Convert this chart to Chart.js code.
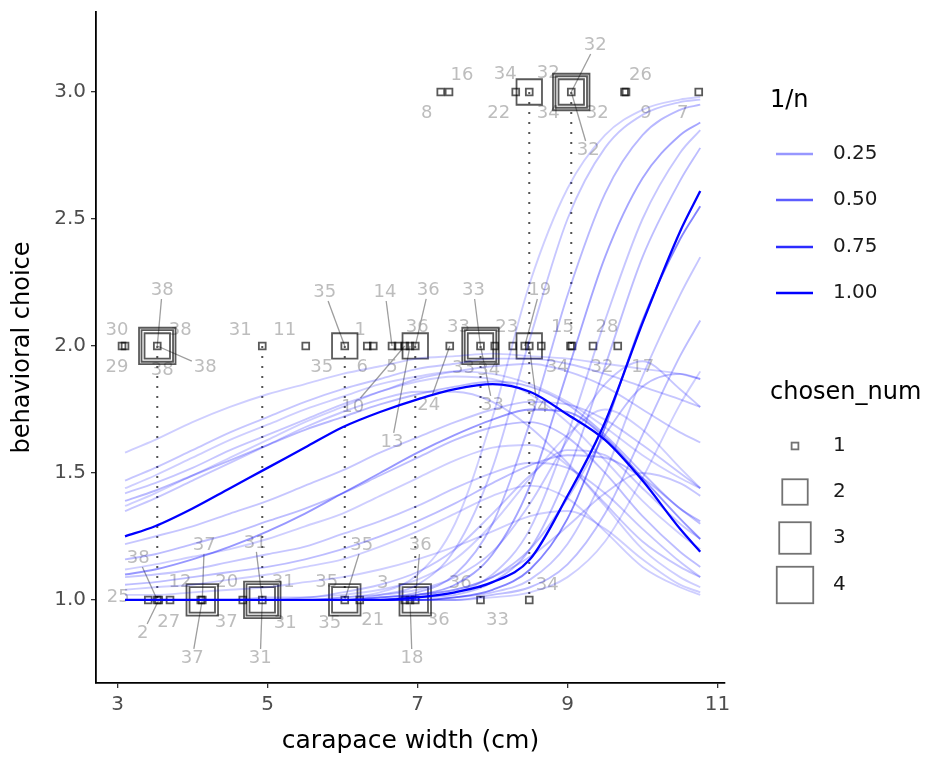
<!DOCTYPE html>
<html><head><meta charset="utf-8">
<script src="https://cdn.jsdelivr.net/npm/chart.js@4.4.1/dist/chart.umd.min.js"></script>
<style>html,body{margin:0;padding:0;background:#fff}</style>
</head><body>
<canvas id="c" width="939" height="759"></canvas>
<script>
// ---------------- DATA ----------------
const xTicks = [3, 5, 7, 9, 11];
const yTicks = [1.0, 1.5, 2.0, 2.5, 3.0];

const xGrid = [3.1, 3.5, 4, 4.5, 5, 5.5, 6, 6.5, 7, 7.5, 8, 8.5, 9, 9.5, 10, 10.5, 10.77];

// 1/n of each fitted curve
const curveInvN = [0.08,0.1,0.08,0.1,0.14,0.25,1,0.1,0.08,0.1,0.125,0.08,0.1,0.125,0.08,0.08,
                   0.1,0.125,0.08,0.1,0.1,
                   0.08,0.1,0.14,0.2,0.1,0.125,1,0.33,0.1,0.125,0.08];
// expected behavioural choice of each curve, read at xGrid
const curveValues = [
 [1.58,1.63,1.70,1.76,1.81,1.85,1.89,1.92,1.95,1.96,1.97,1.96,1.95,1.93,1.91,1.89,1.87],
 [1.47,1.52,1.59,1.66,1.72,1.78,1.83,1.87,1.91,1.93,1.95,1.95,1.93,1.89,1.84,1.79,1.76],
 [1.44,1.49,1.56,1.63,1.69,1.75,1.80,1.85,1.88,1.90,1.89,1.85,1.78,1.68,1.57,1.48,1.44],
 [1.42,1.46,1.52,1.59,1.65,1.71,1.77,1.82,1.87,1.90,1.92,1.93,1.90,1.84,1.75,1.66,1.62],
 [1.39,1.43,1.49,1.55,1.61,1.67,1.72,1.77,1.81,1.84,1.86,1.84,1.77,1.65,1.50,1.36,1.31],
 [1.10,1.12,1.16,1.21,1.27,1.34,1.42,1.50,1.58,1.65,1.71,1.75,1.74,1.64,1.48,1.32,1.24],
 [1.25,1.29,1.36,1.44,1.52,1.60,1.68,1.74,1.79,1.83,1.85,1.82,1.73,1.63,1.47,1.28,1.19],
 [1.35,1.40,1.47,1.54,1.61,1.68,1.74,1.79,1.82,1.82,1.78,1.68,1.54,1.38,1.23,1.13,1.09],
 [1.37,1.42,1.49,1.56,1.63,1.70,1.76,1.82,1.86,1.88,1.87,1.81,1.70,1.55,1.39,1.26,1.20],
 [1.22,1.25,1.29,1.34,1.39,1.45,1.51,1.58,1.64,1.70,1.75,1.78,1.77,1.71,1.61,1.50,1.44],
 [1.16,1.18,1.22,1.26,1.31,1.36,1.42,1.49,1.56,1.63,1.68,1.70,1.64,1.50,1.33,1.19,1.13],
 [1.12,1.14,1.17,1.20,1.24,1.29,1.34,1.41,1.48,1.55,1.60,1.61,1.53,1.37,1.20,1.09,1.05],
 [1.09,1.10,1.12,1.15,1.18,1.21,1.26,1.31,1.37,1.44,1.50,1.54,1.52,1.42,1.28,1.15,1.09],
 [1.06,1.07,1.09,1.11,1.13,1.16,1.20,1.25,1.31,1.38,1.46,1.53,1.57,1.56,1.48,1.36,1.30],
 [1.04,1.05,1.06,1.08,1.10,1.13,1.16,1.21,1.27,1.34,1.41,1.45,1.40,1.27,1.13,1.05,1.02],
 [1.02,1.02,1.03,1.04,1.05,1.07,1.09,1.12,1.16,1.21,1.27,1.33,1.35,1.28,1.16,1.06,1.03],
 [1.00,1.00,1.00,1.00,1.00,1.00,1.01,1.02,1.04,1.09,1.19,1.38,1.63,1.85,1.94,1.83,1.76],
 [1.00,1.00,1.00,1.00,1.00,1.00,1.00,1.01,1.02,1.04,1.09,1.20,1.40,1.65,1.84,1.89,1.87],
 [1.00,1.00,1.00,1.00,1.00,1.01,1.02,1.04,1.08,1.16,1.30,1.48,1.65,1.75,1.67,1.52,1.44],
 [1.00,1.00,1.00,1.00,1.01,1.01,1.03,1.06,1.11,1.20,1.34,1.49,1.59,1.57,1.44,1.30,1.24],
 [1.00,1.00,1.00,1.00,1.00,1.00,1.00,1.01,1.02,1.04,1.09,1.17,1.29,1.42,1.50,1.46,1.41],
 [1.00,1.00,1.00,1.00,1.00,1.00,1.01,1.03,1.10,1.30,1.72,2.25,2.62,2.83,2.93,2.97,2.98],
 [1.00,1.00,1.00,1.00,1.00,1.00,1.00,1.02,1.06,1.20,1.52,2.03,2.50,2.78,2.91,2.96,2.97],
 [1.00,1.00,1.00,1.00,1.00,1.00,1.00,1.01,1.03,1.10,1.30,1.70,2.20,2.60,2.83,2.93,2.95],
 [1.00,1.00,1.00,1.00,1.00,1.00,1.00,1.00,1.02,1.06,1.18,1.45,1.90,2.35,2.66,2.83,2.88],
 [1.00,1.00,1.00,1.00,1.00,1.00,1.00,1.00,1.01,1.03,1.10,1.28,1.65,2.10,2.50,2.76,2.85],
 [1.00,1.00,1.00,1.00,1.00,1.00,1.00,1.00,1.01,1.02,1.07,1.20,1.50,1.92,2.35,2.65,2.78],
 [1.00,1.00,1.00,1.00,1.00,1.00,1.00,1.00,1.01,1.03,1.07,1.16,1.41,1.70,2.09,2.45,2.61],
 [1.00,1.00,1.00,1.00,1.00,1.00,1.00,1.00,1.00,1.01,1.04,1.12,1.32,1.68,2.10,2.42,2.55],
 [1.00,1.00,1.00,1.00,1.00,1.00,1.00,1.00,1.00,1.01,1.03,1.08,1.22,1.50,1.88,2.20,2.35],
 [1.00,1.00,1.00,1.00,1.00,1.00,1.00,1.00,1.00,1.00,1.02,1.05,1.14,1.34,1.65,1.96,2.10],
 [1.00,1.00,1.00,1.00,1.00,1.00,1.00,1.00,1.00,1.00,1.01,1.03,1.09,1.23,1.48,1.77,1.90]
];

// observed choices
const ptX = [7.31,7.42,8.31,8.49,8.49,9.05,9.05,9.05,9.05,9.76,9.78,10.75,
             3.06,3.10,3.53,3.53,3.53,3.53,4.93,5.51,6.03,6.03,6.33,6.41,6.66,6.74,6.83,6.90,6.97,6.97,
             7.43,7.84,7.84,7.84,7.84,8.03,8.27,8.43,8.49,8.49,8.65,9.04,9.06,9.34,9.67,
             3.41,3.53,3.55,3.70,4.11,4.13,4.13,4.13,4.67,4.93,4.93,4.93,4.93,6.03,6.03,6.03,6.23,
             6.83,6.90,6.97,6.97,6.97,7.84,8.49];
const ptY = [3,3,3,3,3,3,3,3,3,3,3,3,
             2,2,2,2,2,2,2,2,2,2,2,2,2,2,2,2,2,2,
             2,2,2,2,2,2,2,2,2,2,2,2,2,2,2,
             1,1,1,1,1,1,1,1,1,1,1,1,1,1,1,1,1,
             1,1,1,1,1,1,1];
const ptSize = [1,1,1,1,2,1,2,3,4,1,1,1,
                1,1,1,2,3,4,1,1,1,2,1,1,1,1,1,1,1,2,
                1,1,2,3,4,1,1,1,1,2,1,1,1,1,1,
                1,1,1,1,1,1,2,3,1,1,2,3,4,1,2,3,1,
                1,1,1,2,3,1,1];
const ptLabel = ["8","16","22","34","34","32","32","32","32","26","9","7",
                 "30","29","38","38","38","38","31","11","35","35","1","6","14","5","10","13","36","36",
                 "24","33","33","33","33","34","23","19","34","34","","15","32","28","17",
                 "25","38","2","12","27","37","37","37","20","31","31","31","31","35","35","35","21",
                 "3","18","36","36","36","33","34"];

// dotted links between the choices of the same crab
const linkX    = [3.53, 4.93, 6.03, 6.97, 7.84, 8.49, 9.05];
const linkFrom = [2, 2, 2, 2, 2, 3, 3];
const linkTo   = [1, 1, 1, 1, 1, 1, 2];

// legend breaks
const invNBreaks = [0.25, 0.50, 0.75, 1.00];
const sizeBreaks = [1, 2, 3, 4];

// ---------------- LAYOUT / STYLE ----------------
const FONT = "'DejaVu Sans', 'Liberation Sans', Arial, sans-serif";
const FAM = 'DejaVu Sans';
const PLOT_TOP = 12;
const sizeRadius = {1: 4.8, 2: 18, 3: 22.3, 4: 25.8};
const alphaOf = v => Math.pow(v, 0.65);
// label offsets (px) from the point, and whether a leader segment is drawn
const labelDx = [-14,13,-17,19,-24,-23,26,24,17,16,20,-16,
                 -5,-8,5,23,48,5,-22,-21,-23,-20,-7,-11,-7,-6,-52,-18,2,13,
                 -21,-22,-17,-7,12,-6,-6,15,28,8,0,-8,30,14,25,
                 -30,-19,-16,10,-32,-10,2,24,-16,-2,-7,21,23,-15,17,-18,13,
                 -22,2,23,5,45,17,18];
const labelDy = [21,-17,21,21,-18,-19,21,-47,58,-17,21,21,
                 -16,21,-56,-16,21,24,-16,-16,21,-54,-16,21,-54,21,61,96,-19,-56,
                 59,-19,22,-56,59,24,-19,-56,21,61,0,-19,21,-19,21,
                 -3,-42,33,-18,22,58,-55,22,-18,58,-57,-18,23,23,-55,-18,20,
                 -17,58,20,-55,-17,20,-15];
const labelLead = [0,0,0,0,0,0,0,1,1,0,0,0,
                   0,0,1,0,1,0,0,0,0,1,0,0,1,0,1,1,0,1,
                   1,0,0,1,1,0,0,1,0,1,0,0,0,0,0,
                   0,1,1,0,0,1,1,0,0,1,1,0,0,0,1,0,0,
                   0,1,0,1,0,0,0];

const fixTop = {
  id: 'fixTop',
  afterLayout(chart) {
    const ca = chart.chartArea;
    if (ca.top !== PLOT_TOP) {
      ca.top = PLOT_TOP;
      ca.height = ca.bottom - ca.top;
      const s = chart.scales.y;
      s.top = PLOT_TOP;
      s.height = s.bottom - s.top;
      s.configure();
    }
  }
};

const labelPlugin = {
  id: 'repelLabels',
  beforeDatasetsDraw(chart) {
    const {ctx, scales: {x, y}} = chart;
    ctx.save();
    ctx.font = `18px ${FONT}`;
    ctx.textAlign = 'center';
    ctx.textBaseline = 'middle';
    for (let i = 0; i < ptX.length; i++) {
      const lab = ptLabel[i];
      if (!lab) continue;
      const px = x.getPixelForValue(ptX[i]), py = y.getPixelForValue(ptY[i]);
      const lx = px + labelDx[i], ly = py + labelDy[i];
      if (labelLead[i]) {
        const w = ctx.measureText(lab).width / 2 + 2, h = 9;
        const dx = px - lx, dy = py - ly;
        const t = Math.min(dx !== 0 ? w / Math.abs(dx) : 1e9, dy !== 0 ? h / Math.abs(dy) : 1e9);
        ctx.strokeStyle = '#9e9e9e';
        ctx.lineWidth = 1.3;
        ctx.beginPath();
        ctx.moveTo(lx + dx * t, ly + dy * t);
        ctx.lineTo(px, py);
        ctx.stroke();
      }
      ctx.fillStyle = '#bdbdbd';
      ctx.fillText(lab, lx, ly);
    }
    ctx.restore();
  }
};

const legendPlugin = {
  id: 'ggLegend',
  afterDraw(chart) {
    const ctx = chart.ctx;
    ctx.save();
    ctx.textBaseline = 'middle';
    ctx.textAlign = 'left';
    ctx.fillStyle = '#000';
    ctx.font = `24px ${FONT}`;
    ctx.fillText('1/n', 770, 101);
    const lineY = [154, 200, 247, 293];
    ctx.font = `20px ${FONT}`;
    invNBreaks.forEach((v, i) => {
      ctx.strokeStyle = `rgba(0,0,255,${alphaOf(v)})`;
      ctx.lineWidth = 2.4;
      ctx.beginPath(); ctx.moveTo(776, lineY[i]); ctx.lineTo(813, lineY[i]); ctx.stroke();
      ctx.fillStyle = '#1a1a1a';
      ctx.fillText(v.toFixed(2), 833, lineY[i]);
    });
    ctx.fillStyle = '#000';
    ctx.font = `24px ${FONT}`;
    ctx.fillText('chosen_num', 770, 393);
    const sqY = [446, 492, 538, 585];
    ctx.font = `20px ${FONT}`;
    sizeBreaks.forEach((s, i) => {
      const half = sizeRadius[s] * Math.SQRT1_2;
      ctx.strokeStyle = 'rgba(0,0,0,0.55)';
      ctx.lineWidth = 1.8;
      ctx.strokeRect(795 - half, sqY[i] - half, 2 * half, 2 * half);
      ctx.fillStyle = '#1a1a1a';
      ctx.fillText(String(s), 833, sqY[i]);
    });
    ctx.restore();
  }
};

// ---------------- DATASETS ----------------
const datasets = [];
curveValues.forEach((vals, k) => {
  datasets.push({
    type: 'line',
    data: xGrid.map((xv, i) => ({x: xv, y: vals[i]})),
    borderColor: `rgba(0,0,255,${alphaOf(curveInvN[k])})`,
    borderWidth: curveInvN[k] >= 0.5 ? 2.3 : 1.9,
    pointRadius: 0,
    cubicInterpolationMode: 'monotone',
    fill: false,
    order: curveInvN[k] >= 0.5 ? 0 : 1
  });
});
datasets.push({
  type: 'scatter',
  data: ptX.map((xv, i) => ({x: xv, y: ptY[i]})),
  pointStyle: 'rect',
  pointRadius: ctx => sizeRadius[ptSize[ctx.dataIndex]],
  pointBackgroundColor: 'rgba(0,0,0,0)',
  pointBorderColor: 'rgba(0,0,0,0.65)',
  pointBorderWidth: 1.8,
  clip: false,
  order: 5
});
linkX.forEach((lx, k) => {
  datasets.push({
    type: 'line',
    data: [{x: lx, y: linkFrom[k]}, {x: lx, y: linkTo[k]}],
    borderColor: '#555',
    borderWidth: 2,
    borderDash: [2, 8],
    borderCapStyle: 'butt',
    pointRadius: 0,
    fill: false,
    order: 8
  });
});

new Chart(document.getElementById('c'), {
  data: {datasets},
  options: {
    responsive: false,
    animation: false,
    devicePixelRatio: 1,
    layout: {padding: {left: 0, right: 214, top: 12, bottom: 0}},
    plugins: {legend: {display: false}, tooltip: {enabled: false}},
    scales: {
      x: {
        type: 'linear', min: 2.713, max: 11.1,
        afterBuildTicks: a => { a.ticks = xTicks.map(v => ({value: v})); },
        afterFit: s => { s.height = 76; },
        ticks: {font: {family: FAM, size: 20}, color: '#4d4d4d', padding: 5, callback: v => String(v), maxRotation: 0},
        grid: {drawOnChartArea: false, drawTicks: true, tickLength: 5, color: '#333', lineWidth: 1.3},
        border: {display: true, color: '#000', width: 1.8},
        title: {display: true, text: 'carapace width (cm)', font: {family: FAM, size: 25}, color: '#000', padding: {top: 0, bottom: 3}}
      },
      y: {
        type: 'linear', min: 0.673, max: 3.315,
        afterBuildTicks: a => { a.ticks = yTicks.map(v => ({value: v})); },
        afterFit: s => { s.width = 96; },
        ticks: {font: {family: FAM, size: 20}, color: '#4d4d4d', padding: 5, callback: v => Number(v).toFixed(1)},
        grid: {drawOnChartArea: false, drawTicks: true, tickLength: 5, color: '#333', lineWidth: 1.3},
        border: {display: true, color: '#000', width: 1.8},
        title: {display: true, text: 'behavioral choice', font: {family: FAM, size: 24}, color: '#000', padding: {top: 8, bottom: 0}}
      }
    }
  },
  plugins: [fixTop, labelPlugin, legendPlugin]
});
</script>
</body></html>
